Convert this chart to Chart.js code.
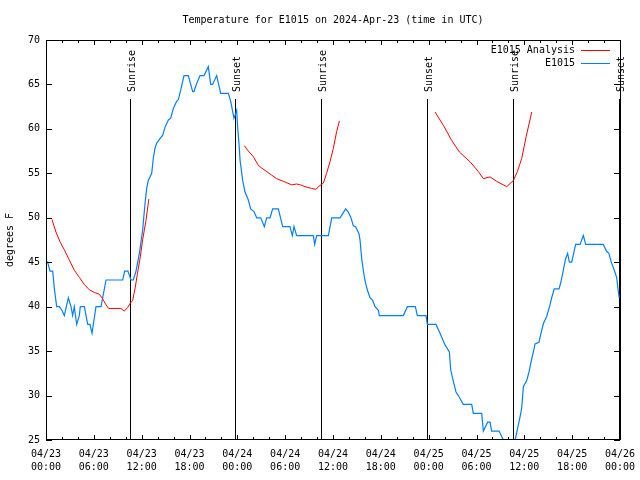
<!DOCTYPE html>
<html>
<head>
<meta charset="utf-8">
<script src="https://cdn.jsdelivr.net/npm/chart.js@4.4.1/dist/chart.umd.min.js"></script>
<style>
  html, body { margin: 0; padding: 0; background: #fff; }
</style>
</head>
<body>
<canvas id="myChart" width="640" height="480"></canvas>
<script>
// observed temperature (hours since 04/23 00:00 UTC, deg F)
const obsHours = [0, 0.21, 0.5, 0.84, 1.05, 1.34, 1.67, 2.0, 2.3, 2.8, 3.14, 3.34, 3.55, 3.85, 4.18, 4.3, 4.81, 5.23, 5.52, 5.77, 6.27, 6.9, 7.53, 9.62, 9.87, 10.28, 10.66, 10.95, 11.29, 11.71, 12.12, 12.42, 12.63, 12.83, 13.26, 13.46, 13.67, 13.88, 14.3, 14.64, 14.93, 15.35, 15.64, 15.97, 16.39, 16.6, 16.9, 17.31, 17.85, 18.4, 18.56, 18.9, 19.32, 19.82, 20.36, 20.66, 20.9, 21.41, 21.91, 22.87, 23.17, 23.58, 23.71, 23.92, 24.04, 24.25, 24.34, 24.67, 24.96, 25.38, 25.67, 26.09, 26.43, 26.93, 27.39, 27.68, 28.1, 28.43, 29.14, 29.69, 30.6, 30.9, 31.11, 31.44, 33.53, 33.7, 33.95, 35.42, 35.84, 36.88, 37.59, 37.93, 38.22, 38.55, 38.84, 39.26, 39.39, 39.6, 39.8, 40.0, 40.3, 40.64, 40.98, 41.27, 41.69, 41.81, 44.82, 45.33, 46.33, 46.58, 47.67, 47.83, 48.92, 49.42, 50.05, 50.6, 50.76, 51.1, 51.43, 51.72, 52.35, 53.4, 53.6, 54.65, 54.86, 55.4, 55.7, 55.9, 56.83, 57.37, 57.8, 58.4, 58.9, 59.46, 59.67, 59.88, 60.3, 60.6, 60.84, 61.13, 61.34, 61.84, 62.09, 62.39, 62.8, 63.22, 63.43, 63.76, 64.35, 64.6, 64.89, 65.18, 65.43, 65.65, 65.94, 66.28, 66.44, 66.99, 67.4, 67.7, 69.9, 70.33, 70.6, 70.95, 71.28, 71.58, 71.79, 71.9];
const obsTemps = [45, 45, 44, 44, 42, 40, 40, 39.6, 39, 41, 40, 39, 40, 38, 39, 40, 40, 38, 38, 37, 40, 40, 43, 43, 44, 44, 43, 43, 44, 46, 48.6, 51.6, 53.3, 54.2, 55, 56.7, 57.8, 58.4, 58.9, 59.3, 60.2, 61, 61.2, 62.3, 63.1, 63.3, 64.4, 66, 66, 64.2, 64.2, 65.1, 66, 66, 67, 65, 65, 66, 64, 64, 63.1, 61.2, 61.5, 62.1, 60.2, 57.8, 56.5, 54.2, 52.9, 52, 51, 50.7, 50, 50, 49, 50, 50, 51, 51, 49, 49, 48, 49, 48, 48, 47, 48, 48, 50, 50, 51, 50.6, 50.1, 49.1, 49, 48.2, 47.5, 45.4, 44.1, 43, 41.9, 41, 40.7, 40, 39.6, 39, 39, 40, 40, 39, 39, 38, 38, 37, 35.7, 34.9, 32.9, 31.6, 30.4, 30, 29, 29, 28, 28, 26, 27, 27, 26, 26, 25, 24, 24, 25.2, 27.6, 28.6, 31, 31.7, 32.7, 33.8, 34.9, 35.8, 36, 37, 38.1, 38.9, 40.2, 41, 42, 42, 42.8, 44.1, 45.4, 46, 45, 45, 46.4, 47, 47, 48, 47, 47, 46.2, 46, 44.9, 44.1, 43.3, 41.7, 41];

// analysis curve (null = gap between runs)
const anaHours = [0.75, 1.25, 1.76, 2.3, 2.84, 3.55, 4.18, 4.81, 5.43, 6.06, 6.69, 7.1, 7.53, 7.86, 9.4, 9.82, 10.24, 10.58, 10.87, 11.2, 11.5, 11.83, 12.12, 12.54, 12.9, 18, 24.88, 25.38, 26.0, 26.63, 27.05, 27.68, 28.31, 28.93, 29.77, 30.82, 31.44, 31.94, 32.49, 33.32, 33.87, 34.16, 34.79, 35.2, 35.62, 36.04, 36.46, 36.8, 42, 48.8, 49.84, 50.89, 51.85, 53.19, 54.23, 54.86, 55.7, 56.53, 57.79, 58.63, 59.13, 59.68, 60.22, 60.93];
const anaTemps = [49.8, 48.4, 47.3, 46.4, 45.4, 44.1, 43.3, 42.5, 41.9, 41.6, 41.4, 40.9, 40.2, 39.8, 39.8, 39.5, 39.9, 40.4, 40.7, 42.2, 43.9, 45.6, 47.5, 49.7, 52.1, null, 58.1, 57.5, 56.9, 55.9, 55.6, 55.2, 54.8, 54.4, 54.1, 53.7, 53.8, 53.7, 53.5, 53.3, 53.2, 53.5, 53.9, 55, 56.3, 57.8, 59.7, 60.9, null, 61.9, 60.4, 58.7, 57.4, 56.3, 55.2, 54.4, 54.6, 54.1, 53.5, 54.2, 55.2, 56.7, 59.1, 61.9];

// sunrise / sunset markers
const eventHours = [10.58, 23.75, 34.54, 47.84, 58.6, 71.93];
const eventNames = ['Sunrise', 'Sunset', 'Sunrise', 'Sunset', 'Sunrise', 'Sunset'];

// x tick labels every 6 hours
const xTickLabels = [
    ['04/23', '00:00'], ['04/23', '06:00'], ['04/23', '12:00'], ['04/23', '18:00'],
    ['04/24', '00:00'], ['04/24', '06:00'], ['04/24', '12:00'], ['04/24', '18:00'],
    ['04/25', '00:00'], ['04/25', '06:00'], ['04/25', '12:00'], ['04/25', '18:00'],
    ['04/26', '00:00']
];

const FONT_FAMILY = '"DejaVu Sans Mono", "Liberation Mono", monospace';
const FONT = '10px ' + FONT_FAMILY;

const gnuplotBits = {
    id: 'gnuplotBits',
    beforeDatasetsDraw(chart) {
        const { ctx, chartArea: a, scales: { x } } = chart;
        ctx.save();
        ctx.strokeStyle = '#000';
        ctx.fillStyle = '#000';
        ctx.lineWidth = 1;
        ctx.font = FONT;
        eventHours.forEach((h, i) => {
            const px = Math.round(x.getPixelForValue(h)) + 0.5;
            ctx.beginPath();
            ctx.moveTo(px, a.top + 59);
            ctx.lineTo(px, a.bottom);
            ctx.stroke();
            ctx.save();
            ctx.translate(px + 2, a.top + 52);
            ctx.rotate(-Math.PI / 2);
            ctx.textAlign = 'left';
            ctx.textBaseline = 'middle';
            ctx.fillText(eventNames[i], 0, 0);
            ctx.restore();
        });
        ctx.restore();
    },
    afterDraw(chart) {
        const { ctx, chartArea: a, scales: { x, y } } = chart;
        ctx.save();
        ctx.strokeStyle = '#000';
        ctx.lineWidth = 1;
        // frame
        ctx.strokeRect(Math.round(a.left) + 0.5, Math.round(a.top) + 0.5,
            Math.round(a.right - a.left), Math.round(a.bottom - a.top) - 1);
        // inward ticks
        ctx.beginPath();
        for (let h = 0; h <= 72; h += 2) {
            const px = Math.round(x.getPixelForValue(h)) + 0.5;
            const len = h % 6 === 0 ? 5 : 3;
            ctx.moveTo(px, a.bottom); ctx.lineTo(px, a.bottom - len);
            ctx.moveTo(px, a.top); ctx.lineTo(px, a.top + len);
        }
        for (let v = 25; v <= 70; v += 5) {
            const py = Math.round(y.getPixelForValue(v)) + 0.5;
            ctx.moveTo(a.left, py); ctx.lineTo(a.left + 6, py);
            ctx.moveTo(a.right, py); ctx.lineTo(a.right - 6, py);
        }
        ctx.stroke();
        // key
        ctx.font = FONT;
        ctx.textAlign = 'right';
        ctx.textBaseline = 'middle';
        chart.data.datasets.forEach((ds, i) => {
            const ry = Math.round(a.top + 10 + i * 13) + 0.5;
            ctx.fillStyle = '#000';
            ctx.fillText(ds.label, a.right - 45, ry);
            ctx.strokeStyle = ds.borderColor;
            ctx.beginPath();
            ctx.moveTo(a.right - 39, ry);
            ctx.lineTo(a.right - 10, ry);
            ctx.stroke();
        });
        ctx.restore();
    }
};

const ctx = document.getElementById('myChart');
new Chart(ctx, {
    type: 'line',
    data: {
        datasets: [{
            label: 'E1015 Analysis',
            data: anaHours.map((h, i) => ({ x: h, y: anaTemps[i] })),
            borderColor: 'rgb(255, 0, 0)',
            borderWidth: 1,
            pointRadius: 0,
            spanGaps: false,
            tension: 0
        }, {
            label: 'E1015',
            data: obsHours.map((h, i) => ({ x: h, y: obsTemps[i] })),
            borderColor: 'rgb(0, 128, 255)',
            borderWidth: 1.2,
            pointRadius: 0,
            tension: 0
        }]
    },
    options: {
        responsive: false,
        animation: false,
        layout: { padding: { left: 0, right: 20, top: 0, bottom: 0 } },
        plugins: {
            legend: { display: false },
            tooltip: { enabled: false },
            title: {
                display: true,
                fullSize: false,
                text: 'Temperature for E1015 on 2024-Apr-23 (time in UTC)',
                color: '#000',
                font: { family: FONT_FAMILY, size: 10, weight: 'normal', lineHeight: 1.2 },
                padding: { top: 14, bottom: 14 }
            }
        },
        scales: {
            x: {
                type: 'linear',
                min: 0,
                max: 72,
                grid: { display: false, drawTicks: false },
                border: { display: false },
                afterFit: (s) => { s.height = 40; s.paddingLeft = 0; s.paddingRight = 0; },
                ticks: {
                    stepSize: 6,
                    autoSkip: false,
                    maxRotation: 0,
                    padding: 8,
                    color: '#000',
                    font: { family: FONT_FAMILY, size: 10, lineHeight: 1.3 },
                    callback: (v) => xTickLabels[Math.round(v / 6)]
                }
            },
            y: {
                min: 25,
                max: 70,
                grid: { display: false, drawTicks: false },
                border: { display: false },
                afterFit: (s) => { s.width = 46; },
                ticks: {
                    stepSize: 5,
                    padding: 6,
                    color: '#000',
                    font: { family: FONT_FAMILY, size: 10 }
                },
                title: {
                    display: true,
                    text: 'degrees F',
                    color: '#000',
                    font: { family: FONT_FAMILY, size: 10, lineHeight: 1.2 },
                    padding: { top: 4, bottom: 0 }
                }
            }
        }
    },
    plugins: [gnuplotBits]
});
</script>
</body>
</html>
